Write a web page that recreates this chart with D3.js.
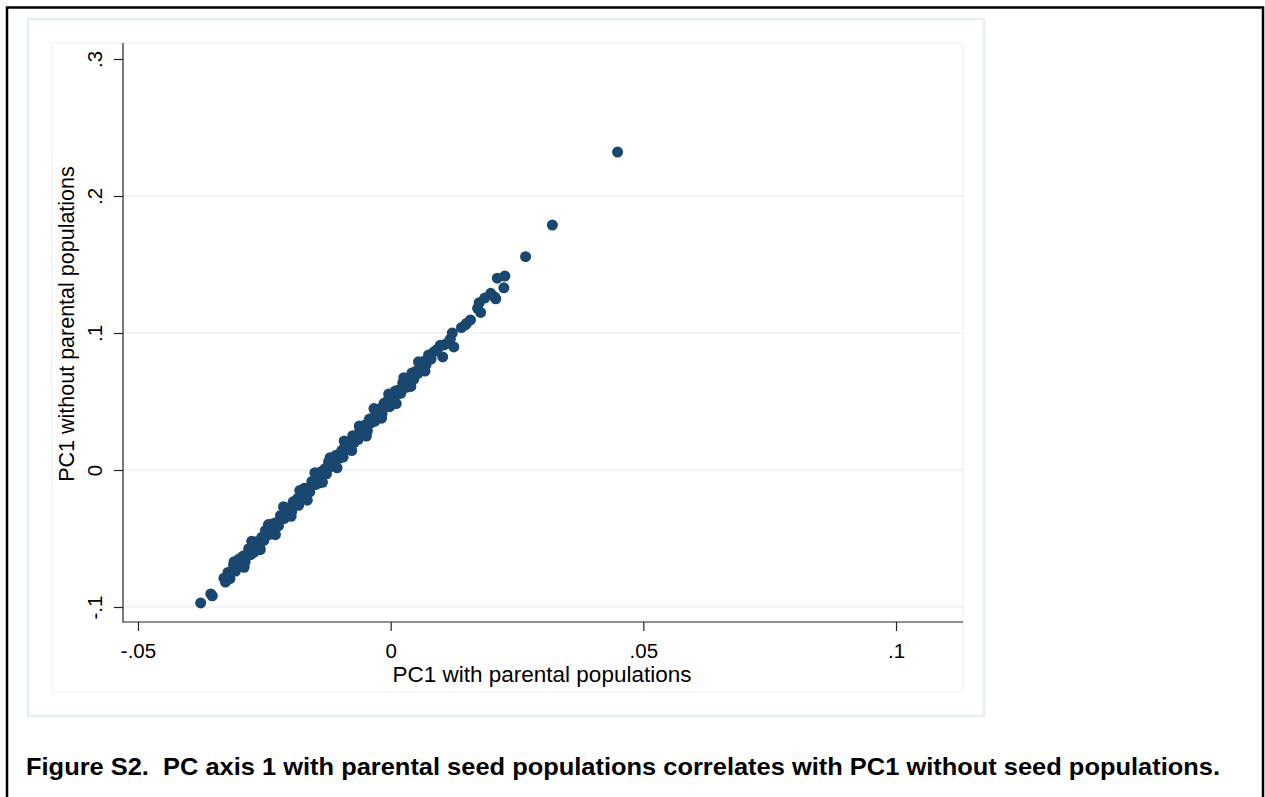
<!DOCTYPE html>
<html>
<head>
<meta charset="utf-8">
<script src="https://cdn.jsdelivr.net/npm/d3@7"></script>
<style>
  body { margin: 0; background: #fff; }
  svg { display: block; }
  text { font-family: "Liberation Sans", Arial, sans-serif; fill: #000; }
</style>
</head>
<body>
<svg width="1265" height="797"></svg>
<script>
// PC1 with parental populations (x) and without them (y)
var pc1With = [
  -0.0376, -0.0356, -0.0353,
  -0.0330, -0.0327, -0.0322, -0.0318, -0.0315, -0.0311, -0.0307, -0.0303, -0.0300, -0.0296,
  -0.0292, -0.0288, -0.0285, -0.0281, -0.0277, -0.0274, -0.0270, -0.0266, -0.0262, -0.0259,
  -0.0255, -0.0251, -0.0248, -0.0244, -0.0240, -0.0237, -0.0233, -0.0229, -0.0226, -0.0222,
  -0.0218, -0.0215, -0.0211, -0.0207, -0.0204, -0.0200, -0.0196, -0.0193, -0.0189, -0.0185,
  -0.0182, -0.0178, -0.0174, -0.0171, -0.0167, -0.0163, -0.0160, -0.0156, -0.0152, -0.0149,
  -0.0145, -0.0141, -0.0138, -0.0134, -0.0130, -0.0127, -0.0123, -0.0119, -0.0116, -0.0112,
  -0.0108, -0.0105, -0.0101, -0.0097, -0.0094, -0.0090, -0.0086, -0.0083, -0.0079, -0.0075,
  -0.0072, -0.0068, -0.0064, -0.0061, -0.0057, -0.0053, -0.0050, -0.0046, -0.0042, -0.0039,
  -0.0035, -0.0031, -0.0028, -0.0024, -0.0020, -0.0017, -0.0013, -0.0009, -0.0006, -0.0002,
  0.0002, 0.0005, 0.0009, 0.0013, 0.0016, 0.0020, 0.0024, 0.0027, 0.0031, 0.0035,
  0.0038, 0.0042, 0.0046, 0.0050, 0.0054, 0.0058, 0.0062, 0.0066, 0.0070, 0.0075,
  0.0080, 0.0086,
  -0.0310, -0.0290, -0.0275, -0.0258, -0.0242, -0.0228, -0.0212, -0.0197, -0.0180, -0.0165,
  -0.0150, -0.0135, -0.0120, -0.0106, -0.0092, -0.0077, -0.0062, -0.0048, -0.0033, -0.0018,
  -0.0004, 0.0011, 0.0026, 0.0040, 0.0055, 0.0068,
  0.0092, 0.0098, 0.0103, 0.0105, 0.0112, 0.0118, 0.0122, 0.0125,
  0.0140, 0.0148, 0.0150, 0.0158, 0.0172, 0.0175, 0.0178, 0.0186, 0.0198, 0.0205, 0.0208,
  0.0211, 0.0224, 0.0226, 0.0267, 0.0320, 0.0449
];
var pc1Without = [
  -0.0970, -0.0905, -0.0918,
  -0.0790, -0.0818, -0.0748, -0.0792, -0.0740, -0.0694, -0.0738, -0.0682, -0.0650, -0.0684,
  -0.0628, -0.0672, -0.0620, -0.0574, -0.0618, -0.0566, -0.0600, -0.0524, -0.0538, -0.0566,
  -0.0490, -0.0514, -0.0442, -0.0476, -0.0430, -0.0468, -0.0392, -0.0416, -0.0384, -0.0408,
  -0.0332, -0.0350, -0.0354, -0.0278, -0.0326, -0.0280, -0.0304, -0.0232, -0.0256, -0.0210,
  -0.0258, -0.0182, -0.0196, -0.0134, -0.0178, -0.0132, -0.0160, -0.0084, -0.0098, -0.0106,
  -0.0050, -0.0094, -0.0012, -0.0036, 0.0010, -0.0028, 0.0058, 0.0024, 0.0056, 0.0032,
  0.0108, 0.0090, 0.0086, 0.0142, 0.0094, 0.0180, 0.0156, 0.0198, 0.0164, 0.0250,
  0.0202, 0.0248, 0.0224, 0.0296, 0.0282, 0.0278, 0.0330, 0.0286, 0.0372, 0.0344,
  0.0380, 0.0356, 0.0438, 0.0394, 0.0450, 0.0412, 0.0488, 0.0464, 0.0506, 0.0462,
  0.0538, 0.0510, 0.0576, 0.0552, 0.0584, 0.0560, 0.0636, 0.0618, 0.0604, 0.0670,
  0.0642, 0.0708, 0.0664, 0.0720, 0.0706, 0.0772, 0.0728, 0.0794, 0.0770, 0.0840,
  0.0810, 0.0864,
  -0.0670, -0.0710, -0.0520, -0.0582, -0.0398, -0.0472, -0.0268, -0.0338, -0.0150, -0.0220,
  -0.0020, -0.0090, 0.0090, 0.0016, 0.0212, 0.0142, 0.0322, 0.0248, 0.0448, 0.0378,
  0.0554, 0.0484, 0.0674, 0.0610, 0.0790, 0.0722,
  0.0880, 0.0910, 0.0825, 0.0912, 0.0925, 0.0955, 0.1000, 0.0898,
  0.1040, 0.1060, 0.1070, 0.1095, 0.1180, 0.1220, 0.1150, 0.1255, 0.1290, 0.1265, 0.1250,
  0.1400, 0.1330, 0.1416, 0.1557, 0.1788, 0.2321
];

var xTicks = [-0.05, 0, 0.05, 0.1];
var xTickLabels = ["-.05", "0", ".05", ".1"];
var yTicks = [-0.1, 0, 0.1, 0.2, 0.3];
var yTickLabels = ["-.1", "0", ".1", ".2", ".3"];
var yGrid = [-0.1, 0, 0.1, 0.2];

var xTitle = "PC1 with parental populations";
var yTitle = "PC1 without parental populations";
var caption = "Figure S2.  PC axis 1 with parental seed populations correlates with PC1 without seed populations.";

var plot = { left: 123, right: 963, top: 43, bottom: 622 };
var markerColor = "#1a476f";

var svg = d3.select("svg");

// page frame
svg.append("rect")
  .attr("x", 7).attr("y", 7.5)
  .attr("width", 1256).attr("height", 900)
  .attr("fill", "none")
  .attr("stroke", "#000")
  .attr("stroke-width", 2.5);

// graph region and inner region outlines
svg.append("rect")
  .attr("x", 28).attr("y", 19)
  .attr("width", 956).attr("height", 697)
  .attr("fill", "none")
  .attr("stroke", "#e6eef0")
  .attr("stroke-width", 2.5);

svg.append("rect")
  .attr("x", 51.5).attr("y", 43.5)
  .attr("width", 911.5).attr("height", 648.5)
  .attr("fill", "none")
  .attr("stroke", "#edf3f4")
  .attr("stroke-width", 1);

var x = d3.scaleLinear().domain([-0.05, 0.1]).range([138, 896]);
var y = d3.scaleLinear().domain([-0.1, 0.3]).range([607, 59]);

// grid
svg.append("g")
  .selectAll("line")
  .data(yGrid)
  .enter()
  .append("line")
  .attr("x1", plot.left).attr("x2", plot.right)
  .attr("y1", function(d) { return y(d); })
  .attr("y2", function(d) { return y(d); })
  .attr("stroke", "#eaf2f3")
  .attr("stroke-width", 1.5);

// axes
var xAxis = d3.axisBottom(x)
  .tickValues(xTicks)
  .tickFormat(function(d, i) { return xTickLabels[i]; })
  .tickSize(9)
  .tickSizeOuter(0)
  .tickPadding(12);

var yAxis = d3.axisLeft(y)
  .tickValues(yTicks)
  .tickFormat(function(d, i) { return yTickLabels[i]; })
  .tickSize(9)
  .tickSizeOuter(0);

var gx = svg.append("g")
  .attr("transform", "translate(0," + plot.bottom + ")")
  .call(xAxis);
gx.select(".domain").remove();
gx.selectAll("text").attr("font-size", 20.5).attr("font-family", null).attr("fill", "#000");

var gy = svg.append("g")
  .attr("transform", "translate(" + plot.left + ",0)")
  .call(yAxis);
gy.select(".domain").remove();
gy.selectAll("text")
  .attr("font-size", 20.5).attr("font-family", null).attr("fill", "#000")
  .attr("text-anchor", "middle")
  .attr("transform", "rotate(-90)")
  .attr("x", 0).attr("y", -21).attr("dy", 0);

svg.selectAll(".tick line").attr("stroke", "#222").attr("stroke-width", 1.2);

svg.append("line")
  .attr("x1", plot.left).attr("x2", plot.left)
  .attr("y1", plot.top).attr("y2", plot.bottom + 0.6)
  .attr("stroke", "#222").attr("stroke-width", 1.2);
svg.append("line")
  .attr("x1", plot.left).attr("x2", plot.right)
  .attr("y1", plot.bottom).attr("y2", plot.bottom)
  .attr("stroke", "#222").attr("stroke-width", 1.2);

// titles
svg.append("text")
  .attr("x", 542).attr("y", 682)
  .attr("text-anchor", "middle")
  .attr("font-size", 22.5)
  .text(xTitle);

svg.append("text")
  .attr("transform", "translate(74,324) rotate(-90)")
  .attr("text-anchor", "middle")
  .attr("font-size", 21.5)
  .text(yTitle);

// points
svg.append("g")
  .selectAll("circle")
  .data(pc1With)
  .enter()
  .append("circle")
  .attr("cx", function(d) { return x(d); })
  .attr("cy", function(d, i) { return y(pc1Without[i]); })
  .attr("r", 5.5)
  .attr("fill", markerColor);

// caption
svg.append("text")
  .attr("x", 26).attr("y", 775)
  .attr("font-size", 24)
  .attr("font-weight", "bold")
  .attr("textLength", 1194)
  .attr("lengthAdjust", "spacingAndGlyphs")
  .style("white-space", "pre")
  .text(caption);
</script>
</body>
</html>
